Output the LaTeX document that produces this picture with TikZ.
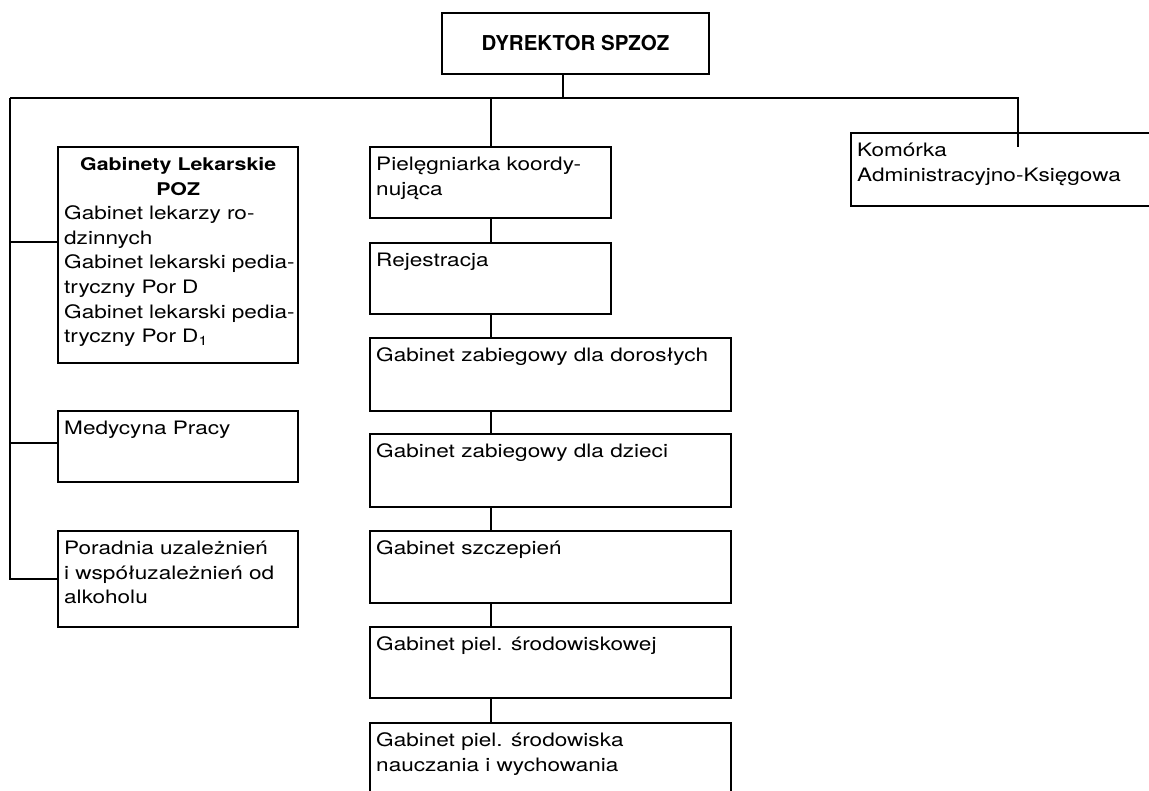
\documentclass[tikz,border=0pt]{standalone}
\usepackage{fontspec}
\setmainfont{TeX Gyre Heros}[FakeStretch=1.22]
\newfontfamily\plainheros{TeX Gyre Heros}
\usetikzlibrary{positioning}
\newcommand{\bodyfont}{\fontsize{18.5}{24.6}\selectfont}
\newcommand{\headfont}{\fontsize{17.5}{24.6}\selectfont\bfseries}
\newcommand{\topfont}{\fontsize{20.5}{24}\plainheros\bfseries}
\tikzset{
  unit/.style={draw, line width=1.5pt, outer sep=0pt, inner sep=0pt,
    anchor=north west, rectangle},
  txt/.style={anchor=north west, align=left, inner xsep=6pt, inner ysep=6pt,
    font=\bodyfont},
  link/.style={line width=1.5pt}
}
\begin{document}
\begin{tikzpicture}[x=1pt,y=-1pt]
\clip (0,0) rectangle (1149,791);
% top
\node[unit, anchor=center, minimum width=267pt, minimum height=61pt, font=\topfont]
  (dyr) at (575.5,43.5) {DYREKTOR SPZOZ};
\coordinate (hub) at (563,98);
\coordinate (lt) at (10,98);
\coordinate (mt) at (491,98);
\coordinate (rt) at (1018,98);
\coordinate (kend) at (1018,147);
% left column
\node[unit, minimum width=240pt, minimum height=216pt,
  label={[txt, text width=228pt]north west:\strut{\centering\headfont Gabinety Lekarskie\\POZ\endgraf}
  \mbox{Gabinet lekarzy ro-}\\dzinnych\\\mbox{Gabinet lekarski pedia-}\\tryczny Por D\\\mbox{Gabinet lekarski pedia-}\\tryczny Por D\textsubscript{1}}]
  (gab) at (58,147) {};
\node[unit, minimum width=240pt, minimum height=71pt,
  label={[txt]north west:\strut Medycyna Pracy}] (med) at (58,411) {};
\node[unit, minimum width=240pt, minimum height=96pt,
  label={[txt]north west:\strut Poradnia uzależnień\\i współuzależnień od\\alkoholu}] (por) at (58,531) {};
% middle column
\node[unit, minimum width=241pt, minimum height=71pt,
  label={[txt]north west:\strut Pielęgniarka koordy-\\nująca}] (piel) at (370,147) {};
\node[unit, minimum width=241pt, minimum height=71pt,
  label={[txt]north west:\strut Rejestracja}] (rej) at (370,243) {};
\node[unit, minimum width=361pt, minimum height=73pt,
  label={[txt]north west:\strut Gabinet zabiegowy dla dorosłych}] (dor) at (370,338) {};
\node[unit, minimum width=361pt, minimum height=73pt,
  label={[txt]north west:\strut Gabinet zabiegowy dla dzieci}] (dzi) at (370,434) {};
\node[unit, minimum width=361pt, minimum height=72pt,
  label={[txt]north west:\strut Gabinet szczepień}] (szcz) at (370,531) {};
\node[unit, minimum width=361pt, minimum height=71pt,
  label={[txt]north west:\strut Gabinet piel. środowiskowej}] (srod) at (370,627) {};
\node[unit, minimum width=361pt, minimum height=100pt,
  label={[txt]north west:\strut Gabinet piel. środowiska\\nauczania i wychowania}] (naucz) at (370,723) {};
% right
\node[unit, minimum width=330pt, minimum height=73pt,
  label={[txt]north west:\strut Komórka\\Administracyjno-Księgowa}] (kom) at (851,133) {};
% connectors
\draw[link] (hub |- dyr.south) -- (hub);
\draw[link] (lt) -- (rt) -- (kend);
\draw[link] (lt) |- (por.west);
\draw[link] (lt |- 0,443) -- (med.west |- 0,443);
\draw[link] (lt |- 0,242) -- (gab.west |- 0,242);
\draw[link] (mt) -- (piel.north -| mt);
\foreach \a/\b in {piel/rej,rej/dor,dor/dzi,dzi/szcz,szcz/srod,srod/naucz}
  \draw[link] (\a.south -| mt) -- (\b.north -| mt);
\end{tikzpicture}
\end{document}
